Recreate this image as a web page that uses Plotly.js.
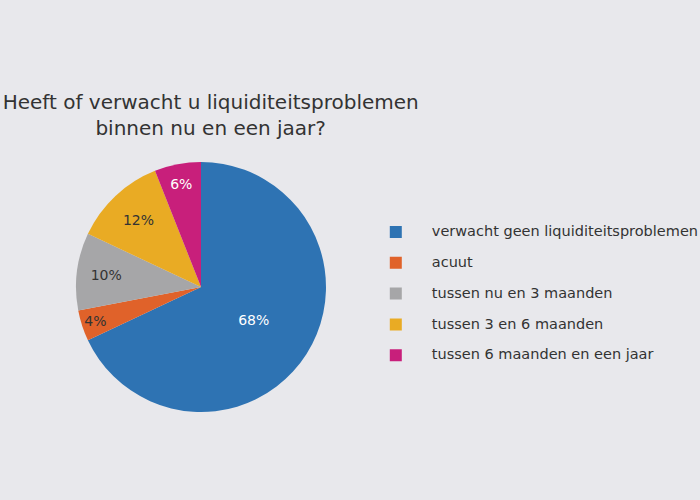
<!DOCTYPE html>
<html>
<head>
<meta charset="utf-8">
<script src="https://cdn.plot.ly/plotly-3.0.1.min.js"></script>
<style>
  body { margin: 0; background: #e8e8ec; }
  #plot { width: 700px; height: 500px; }
</style>
</head>
<body>
<div id="plot"></div>
<script>
// categories and shares (%)
var labels = [
    "verwacht geen liquiditeitsproblemen",
    "acuut",
    "tussen nu en 3 maanden",
    "tussen 3 en 6 maanden",
    "tussen 6 maanden en een jaar"
];
var values = [68, 4, 10, 12, 6];
var sliceColors = ['#2e73b3', '#e0622a', '#a6a6a8', '#e9ab24', '#c81f7b'];
var textColors = ['#ffffff', '#333333', '#333333', '#333333', '#ffffff'];

// an empty second line makes each legend row taller (rows are ~31px apart in the original)
var legendLabels = labels.map(function (l) {
    return '<span style="font-size:14.5px">' + l + '</span><br> ';
});

var data = [{
    type: 'pie',
    labels: legendLabels,
    values: values,
    sort: false,
    direction: 'clockwise',
    rotation: 0,
    marker: { colors: sliceColors, line: { width: 0 } },
    textinfo: 'percent',
    textposition: 'inside',
    insidetextorientation: 'horizontal',
    insidetextfont: { color: textColors, size: 14, family: 'DejaVu Sans' },
    domain: { x: [0.1086, 0.4657], y: [0.176, 0.676] },
    hoverinfo: 'percent'
}];

var layout = {
    width: 700,
    height: 500,
    paper_bgcolor: '#e8e8ec',
    plot_bgcolor: '#e8e8ec',
    font: { family: 'DejaVu Sans', color: '#333333' },
    title: {
        text: 'Heeft of verwacht u liquiditeitsproblemen<br>binnen nu en een jaar?',
        font: { size: 20, color: '#333333', family: 'DejaVu Sans' },
        x: 0.301,
        xanchor: 'center',
        xref: 'paper',
        y: 0.783,
        yanchor: 'middle',
        yref: 'container'
    },
    showlegend: true,
    legend: {
        x: 0.514,
        y: 0.563,
        xanchor: 'left',
        yanchor: 'top',
        valign: 'top',
        bgcolor: 'rgba(0,0,0,0)',
        font: { size: 10.7, color: '#333333' },
        itemwidth: 62
    },
    margin: { t: 0, l: 0, r: 0, b: 0, autoexpand: false }
};

Plotly.newPlot('plot', data, layout, { displayModeBar: false });
</script>
</body>
</html>
